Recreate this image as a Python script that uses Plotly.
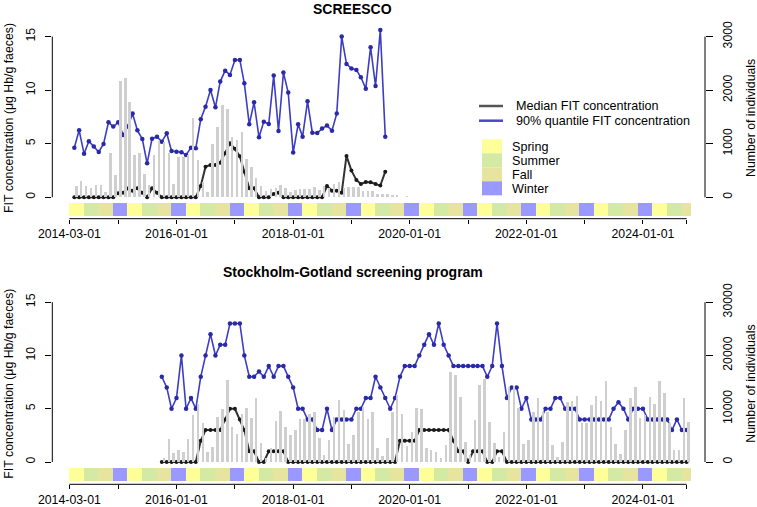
import plotly.graph_objects as go
import pandas as pd

W, H = 757, 507

# ---------------- data ----------------
# SCREESCO (monthly, first month 2014-04)
top_start = "2014-04-01"
top_q90 = [4.63, 6.25, 4.07, 5.23, 4.73, 4.23, 4.98, 7.0, 6.6, 7.0,
           5.82, 6.6, 7.81, 6.25, 5.44, 3.17, 5.47, 5.66, 5.19, 5.97,
           4.32, 4.26, 4.2, 3.95, 4.63, 4.57, 7.28, 8.46, 10.02, 8.4,
           10.8, 11.82, 11.42, 12.82, 12.82, 10.64, 6.81, 8.87, 5.6, 7.06,
           6.84, 11.36, 6.19, 11.64, 9.77, 4.17, 6.81, 5.66, 8.96, 6.03,
           6.0, 6.41, 6.69, 6.22, 7.81, 15.0, 12.45, 12.01, 11.89, 11.2,
           10.14, 14.0, 10.39, 15.62, 5.66]
top_median = [0, 0, 0, 0, 0, 0, 0, 0, 0, 0.37,
              0.43, 0.81, 0.62, 0.84, 0.43, 0, 0.84, 0.43, 0, 0,
              0, 0, 0, 0, 0, 0, 1.05, 2.86, 3.01, 3.01,
              3.23, 4.1, 5.04, 4.52, 3.82, 2.39, 0.84, 0.84, 0, 0,
              0, 0.31, 0.43, 0, 0, 0, 0, 0, 0, 0,
              0, 0, 1.05, 0.62, 0.62, 0.43, 3.86, 2.49, 1.62, 1.24,
              1.43, 1.4, 1.24, 1.09, 2.39]
top_n = [199, 292, 199, 168, 217, 217, 87, 822, 417, 2161,
         2224, 1769, 778, 822, 435, 217, 778, 1040, 1028, 822,
         249, 741, 741, 791, 1476, 685, 274, 87, 996, 1308,
         1725, 1650, 1121, 1059, 1214, 710, 554, 355, 211, 105,
         149, 168, 230, 168, 87, 136, 155, 155, 155, 186,
         124, 199, 168, 249, 280, 168, 180, 180, 180, 105,
         105, 118, 56, 56, 56, 31, 31, 0, 12]

# Stockholm-Gotland (monthly, first month 2015-10)
bot_start = "2015-10-01"
bot_q90 = [8, 7, 5, 6, 10, 5, 6, 5, 8, 10,
           12, 10, 11, 11, 13, 13, 13, 10, 8, 8,
           8.5, 8, 9, 8, 9, 9, 8, 7, 5, 5,
           4, 4, 3, 3, 5, 3, 4, 4, 4, 4,
           5, 5, 6, 6, 8, 7, 6, 5, 6, 8,
           9, 9, 9, 10, 11, 12, 11, 13, 11, 10,
           9, 9, 9, 9, 9, 9, 9, 8, 9, 13,
           9, 6, 7, 7, 5, 6, 4, 4, 4, 5,
           5, 6, 6, 5, 5, 5, 4, 4, 4, 4,
           4, 4, 4, 5, 5.6, 5, 4, 5, 5, 5,
           4, 4, 4, 4, 4, 3, 4, 3, 3]
bot_median = [0, 0, 0, 0, 0, 0, 0, 0, 2, 3,
              3, 3, 3, 4, 5, 5, 4, 3, 1, 1,
              0, 0, 1, 1, 1, 1, 0, 0, 0, 0,
              0, 0, 0, 0, 0, 0, 0, 0, 0, 0,
              0, 0, 0, 0, 0, 0, 0, 0, 0, 2,
              2, 2, 2, 3, 3, 3, 3, 3, 3, 3,
              2, 1, 1, 0, 1, 1, 1, 0, 0, 1,
              1, 0, 0, 0, 0, 0, 0, 0, 0, 0,
              0, 0, 0, 0, 0, 0, 0, 0, 0, 0,
              0, 0, 0, 0, 0, 0, 0, 0, 0, 0,
              0, 0, 0, 0, 0, 0, 0, 0, 0]
bot_n = [814, 4259, 1754, 2192, 1817, 4384, 8831, 10835, 7391, 1817,
         2756, 8393, 9959, 15408, 6514, 5261, 9019, 10209, 8330, 12088,
         3508, 689, 2568, 7730, 9583, 6639, 5073, 6013, 8017, 8017,
         8957, 9457, 4447, 1315, 4134, 8518, 11650, 9771, 3382, 5073,
         9332, 10272, 8080, 9332, 2693, 1127, 4572, 9457, 12589, 9019,
         3069, 5699, 10209, 9959, 2568, 2255, 1941, 689, 3194, 16973,
         16347, 12276, 3820, 1315, 7892, 14468, 15596, 7578, 3508, 1000,
         5699, 14155, 14280, 10084, 3320, 4134, 9457, 11963, 9332, 9332,
         3194, 1002, 3696, 11336, 11524, 12464, 7390, 7266, 10710, 12464,
         11462, 15282, 6639, 3320, 1441, 6013, 12088, 14030, 8205, 8831,
         12151, 10836, 15220, 12903, 7266, 2255, 2255, 11963, 7578]

season_names = ["Spring", "Summer", "Fall", "Winter"]
season_colors = ["#FFFF99", "#D4EAA4", "#E6E49F", "#9999FF"]
season_first = "2014-03-01"
season_last = "2024-10-31"

x_tick_vals = ["2014-03-01", "2015-01-01", "2016-01-01", "2017-01-01", "2018-01-01",
               "2019-01-01", "2020-01-01", "2021-01-01", "2022-01-01", "2023-01-01",
               "2024-01-01", "2024-10-01"]
x_tick_text = ["2014-03-01", "", "2016-01-01", "", "2018-01-01", "", "2020-01-01", "",
               "2022-01-01", "", "2024-01-01", ""]
top_y2_ticks = [0, 1000, 2000, 3000]
bot_y2_ticks = [0, 10000, 20000, 30000]

panel_titles = ["SCREESCO", "Stockholm-Gotland screening program"]
y_title = "FIT concentration (μg Hb/g faeces)"
y2_title = "Number of individuals"
legend_lines = ["Median FIT concentration", "90% quantile FIT concentration"]

# ---------------- styling ----------------
FONT = "Liberation Sans, Arial, sans-serif"
FS = 12.3
BLUE_LINE = "#3d3dc4"
BLUE_MK = "#2a2aa8"
BLACK_LINE = "#333333"
BLACK_MK = "#1a1a1a"
BAR_COL = "#cfcfcf"
DAY = 86400000

def px_x(p):
    return p / W

def px_y(p):
    return 1 - p / H

xdom = [px_x(52.3), px_x(705)]
xrange = ["2013-11-14", "2025-01-24"]
top_dom = [px_y(218.7), px_y(17.3)]
bot_dom = [px_y(484.3), px_y(283.0)]
top_yr = [-2.0, 16.8]
bot_yr = [-2.09, 16.8]
top_scale = 200.0
bot_scale = 2000.0

fig = go.Figure()

s_starts = pd.date_range(season_first, season_last, freq="3MS")
s_end_lim = pd.Timestamp(season_last) + pd.Timedelta(days=1)

def season_traces(xa, ya):
    for si in range(4):
        xs, ws = [], []
        for i, s in enumerate(s_starts):
            if i % 4 != si:
                continue
            e = min(s + pd.DateOffset(months=3), s_end_lim)
            xs.append(s)
            ws.append((e - s).total_seconds() * 1000)
        fig.add_trace(go.Bar(x=xs, y=[1.22] * len(xs), base=-1.77, width=ws, offset=0,
                             marker=dict(color=season_colors[si], line=dict(width=0)),
                             xaxis=xa, yaxis=ya, showlegend=False, hoverinfo="skip"))

def panel(start, q90, med, n, xa, ya, ya2):
    d_pts = pd.date_range(start, periods=len(q90), freq="MS")
    d_bar = pd.date_range(start, periods=len(n), freq="MS")
    fig.add_trace(go.Bar(x=d_bar, y=n, width=16 * DAY, offset=7 * DAY,
                         marker=dict(color=BAR_COL, line=dict(width=0)),
                         xaxis=xa, yaxis=ya2, showlegend=False))
    season_traces(xa, ya)
    fig.add_trace(go.Scatter(x=d_pts, y=med, mode="lines+markers",
                             line=dict(color=BLACK_LINE, width=2),
                             marker=dict(color=BLACK_MK, size=4),
                             xaxis=xa, yaxis=ya, showlegend=False))
    fig.add_trace(go.Scatter(x=d_pts, y=q90, mode="lines+markers",
                             line=dict(color=BLUE_LINE, width=1.6),
                             marker=dict(color=BLUE_MK, size=4.5),
                             xaxis=xa, yaxis=ya, showlegend=False))

panel(top_start, top_q90, top_median, top_n, "x", "y", "y2")
panel(bot_start, bot_q90, bot_median, bot_n, "x2", "y3", "y4")

tickfont = dict(family=FONT, size=FS, color="black")
xcommon = dict(type="date", domain=xdom, range=xrange, tickvals=x_tick_vals, ticktext=x_tick_text,
               ticks="outside", ticklen=4, tickwidth=1, tickcolor="black", showline=False,
               showgrid=False, zeroline=False, tickfont=tickfont, tickangle=0, automargin=False)
ycommon = dict(showgrid=False, zeroline=False, showline=False, ticks="outside", ticklen=6.5,
               tickwidth=1, tickcolor="black", tickfont=tickfont, tickangle=-90, automargin=False,
               ticklabelstandoff=5)

fig.update_layout(
    width=W, height=H, margin=dict(l=0, r=0, t=0, b=0, autoexpand=False),
    paper_bgcolor="white", plot_bgcolor="white", barmode="overlay", bargap=0,
    showlegend=False,
    font=dict(family=FONT, size=FS, color="black"),
    xaxis=dict(anchor="y", **xcommon),
    xaxis2=dict(anchor="y3", **xcommon),
    yaxis=dict(domain=top_dom, range=top_yr, tickvals=[0, 5, 10, 15], anchor="x", **ycommon),
    yaxis2=dict(domain=top_dom, range=[top_yr[0] * top_scale, top_yr[1] * top_scale],
                tickvals=top_y2_ticks, ticktext=[str(v) for v in top_y2_ticks],
                overlaying="y", side="right", anchor="x", **ycommon),
    yaxis3=dict(domain=bot_dom, range=bot_yr, tickvals=[0, 5, 10, 15], anchor="x2", **ycommon),
    yaxis4=dict(domain=bot_dom, range=[bot_yr[0] * bot_scale, bot_yr[1] * bot_scale],
                tickvals=bot_y2_ticks, ticktext=[str(v) for v in bot_y2_ticks],
                overlaying="y3", side="right", anchor="x2", **ycommon),
)

shapes = []
ann = []
for (xa, ya, ya2, top, dom) in [("x", "y", "y2", top_y2_ticks[-1], top_dom),
                                ("x2", "y3", "y4", bot_y2_ticks[-1], bot_dom)]:
    shapes.append(dict(type="line", xref="paper", yref=ya, x0=xdom[0], x1=xdom[0], y0=0, y1=15,
                       line=dict(color="black", width=1)))
    shapes.append(dict(type="line", xref="paper", yref=ya2, x0=xdom[1], x1=xdom[1], y0=0, y1=top,
                       line=dict(color="black", width=1)))
    shapes.append(dict(type="line", xref=xa, yref=ya + " domain", x0=x_tick_vals[0], x1=x_tick_vals[-1],
                       y0=0, y1=0, line=dict(color="black", width=1)))
    mid = (dom[0] + dom[1]) / 2
    ann.append(dict(text=y_title, xref="paper", yref="paper", x=px_x(9), y=mid, textangle=-90,
                    showarrow=False, xanchor="center", yanchor="middle",
                    font=dict(family=FONT, size=FS, color="black")))
    ann.append(dict(text=y2_title, xref="paper", yref="paper", x=px_x(751), y=mid, textangle=-90,
                    showarrow=False, xanchor="center", yanchor="middle",
                    font=dict(family=FONT, size=FS, color="black")))

for t, yp in zip(panel_titles, [9, 272]):
    ann.append(dict(text="<b>" + t + "</b>", xref="paper", yref="paper", x=px_x(352.5), y=px_y(yp),
                    showarrow=False, xanchor="center", yanchor="middle",
                    font=dict(family=FONT, size=14, color="black")))

LFS = 12.6
for txt, col, yp in zip(legend_lines, ["#555555", "#4848c8"], [106, 120.7]):
    shapes.append(dict(type="line", xref="paper", yref="paper", x0=px_x(479), x1=px_x(503),
                       y0=px_y(yp), y1=px_y(yp), line=dict(color=col, width=2.5)))
    ann.append(dict(text=txt, xref="paper", yref="paper", x=px_x(514), y=px_y(yp),
                    showarrow=False, xanchor="left", yanchor="middle",
                    font=dict(family=FONT, size=LFS, color="black")))
for i, (nm, col) in enumerate(zip(season_names, season_colors)):
    y0 = 139.3 + 14 * i
    shapes.append(dict(type="rect", xref="paper", yref="paper", x0=px_x(482), x1=px_x(502),
                       y0=px_y(y0 + 14), y1=px_y(y0), fillcolor=col, line=dict(width=0)))
    ann.append(dict(text=nm, xref="paper", yref="paper", x=px_x(509.5), y=px_y(y0 + 7.5),
                    showarrow=False, xanchor="left", yanchor="middle",
                    font=dict(family=FONT, size=LFS, color="black")))

fig.update_layout(shapes=shapes, annotations=ann)
fig.write_html("out.html")
